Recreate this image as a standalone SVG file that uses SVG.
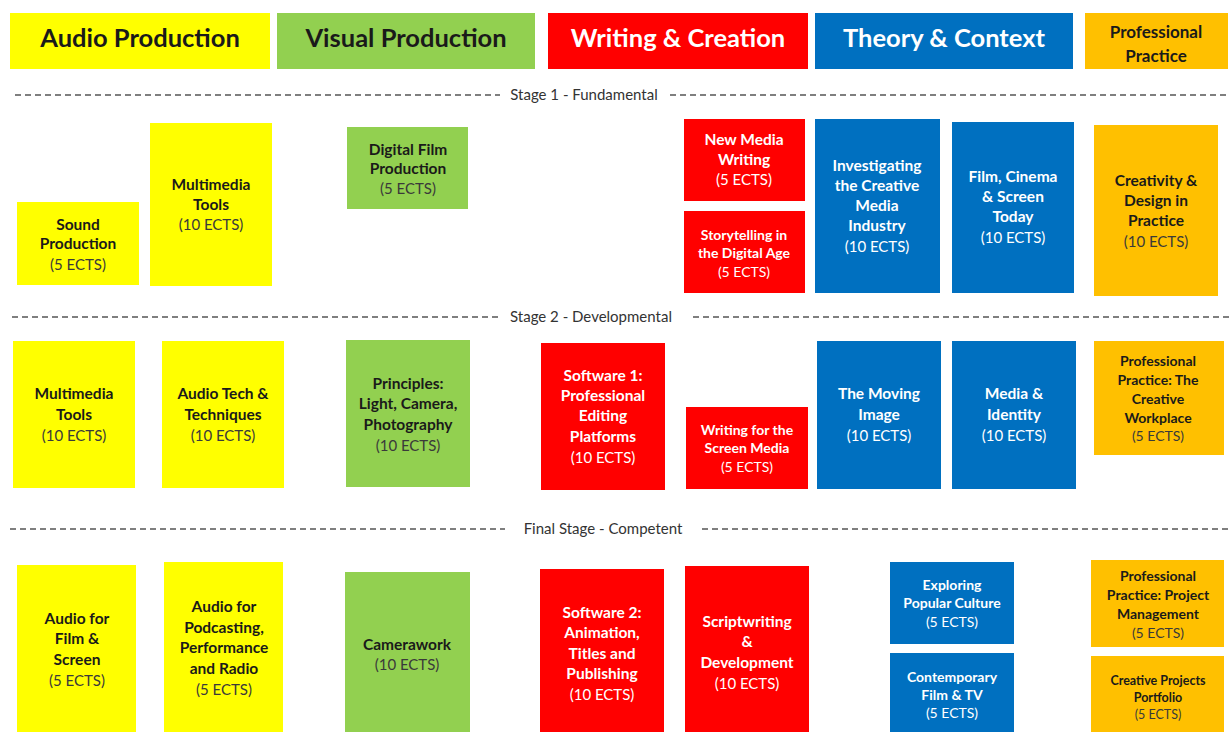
<svg xmlns="http://www.w3.org/2000/svg" width="1230" height="732" viewBox="0 0 1230 732">
<style>
text{font-family:Lato,"Open Sans","Liberation Sans",sans-serif;text-anchor:middle}
.b{font-weight:bold;font-size:15.5px}
.r{font-weight:normal;font-size:15px}
.s{font-size:14px}
.xs{font-size:12.5px}
.hd{font-weight:bold;font-size:25.5px}
.hs{font-weight:bold;font-size:17px}
.y{fill:#FFFF00}.g{fill:#92D050}.rd{fill:#FF0000}.bl{fill:#0070C0}.o{fill:#FFC000}
.dk{fill:#1a1a1a}.gy{fill:#3a3a3a}.w{fill:#ffffff}
.dash{stroke:#555;stroke-width:1.3;stroke-dasharray:6 4;fill:none}
.st{font-size:15px;fill:#333}
</style>
<rect width="1230" height="732" fill="#ffffff"/>

<g id="headers">
<g id="h-audio"><rect class="y" x="10" y="13" width="260" height="56"/><text class="hd dk" x="140" y="47">Audio Production</text></g>
<g id="h-visual"><rect class="g" x="277" y="13" width="258" height="56"/><text class="hd dk" x="406" y="47">Visual Production</text></g>
<g id="h-writing"><rect class="rd" x="548" y="13" width="260" height="56"/><text class="hd w" x="678" y="47">Writing &amp; Creation</text></g>
<g id="h-theory"><rect class="bl" x="815" y="13" width="258" height="56"/><text class="hd w" x="944" y="47">Theory &amp; Context</text></g>
<g id="h-prof"><rect class="o" x="1085" y="13" width="143" height="56"/><text class="hs dk" x="1156" y="38">Professional</text><text class="hs dk" x="1156" y="62">Practice</text></g>
</g>

<g id="stages">
<path class="dash" d="M15 95H500M670 95H1230"/>
<text class="st" x="584" y="100">Stage 1 - Fundamental</text>
<path class="dash" d="M12 317H500M693 317H1230"/>
<text class="st" x="591" y="322">Stage 2 - Developmental</text>
<path class="dash" d="M10 529H505M702 529H1230"/>
<text class="st" x="603" y="534">Final Stage - Competent</text>
</g>

<g id="stage1">
<g id="s1-sound"><rect class="y" x="17" y="202" width="122" height="83"/>
<text class="b dk" x="78" y="230">Sound</text><text class="b dk" x="78" y="249">Production</text><text class="r gy" x="78" y="270">(5 ECTS)</text></g>
<g id="s1-multimedia"><rect class="y" x="150" y="123" width="122" height="163"/>
<text class="b dk" x="211" y="190">Multimedia</text><text class="b dk" x="211" y="210">Tools</text><text class="r gy" x="211" y="230">(10 ECTS)</text></g>
<g id="s1-digitalfilm"><rect class="g" x="347" y="127" width="121" height="82"/>
<text class="b dk" x="408" y="155">Digital Film</text><text class="b dk" x="408" y="174">Production</text><text class="r gy" x="408" y="194">(5 ECTS)</text></g>
<g id="s1-newmedia"><rect class="rd" x="684" y="119" width="121" height="82"/>
<text class="b w" x="744" y="145">New Media</text><text class="b w" x="744" y="165">Writing</text><text class="r w" x="744" y="185">(5 ECTS)</text></g>
<g id="s1-storytelling"><rect class="rd" x="684" y="211" width="121" height="82"/>
<text class="b s w" x="744" y="240">Storytelling in</text><text class="b s w" x="744" y="258">the Digital Age</text><text class="r s w" x="744" y="277">(5 ECTS)</text></g>
<g id="s1-investigating"><rect class="bl" x="815" y="119" width="125" height="174"/>
<text class="b w" x="877" y="171">Investigating</text><text class="b w" x="877" y="191">the Creative</text><text class="b w" x="877" y="211">Media</text><text class="b w" x="877" y="231">Industry</text><text class="r w" x="877" y="252">(10 ECTS)</text></g>
<g id="s1-filmcinema"><rect class="bl" x="952" y="122" width="122" height="171"/>
<text class="b w" x="1013" y="182">Film, Cinema</text><text class="b w" x="1013" y="202">&amp; Screen</text><text class="b w" x="1013" y="222">Today</text><text class="r w" x="1013" y="243">(10 ECTS)</text></g>
<g id="s1-creativity"><rect class="o" x="1094" y="125" width="124" height="171"/>
<text class="b dk" x="1156" y="186">Creativity &amp;</text><text class="b dk" x="1156" y="206">Design in</text><text class="b dk" x="1156" y="226">Practice</text><text class="r gy" x="1156" y="247">(10 ECTS)</text></g>
</g>

<g id="stage2">
<g id="s2-multimedia"><rect class="y" x="13" y="341" width="122" height="147"/>
<text class="b dk" x="74" y="399">Multimedia</text><text class="b dk" x="74" y="420">Tools</text><text class="r gy" x="74" y="441">(10 ECTS)</text></g>
<g id="s2-audiotech"><rect class="y" x="162" y="341" width="122" height="147"/>
<text class="b dk" x="223" y="399">Audio Tech &amp;</text><text class="b dk" x="223" y="420">Techniques</text><text class="r gy" x="223" y="441">(10 ECTS)</text></g>
<g id="s2-principles"><rect class="g" x="346" y="340" width="124" height="147"/>
<text class="b dk" x="408" y="389">Principles:</text><text class="b dk" x="408" y="409">Light, Camera,</text><text class="b dk" x="408" y="430">Photography</text><text class="r gy" x="408" y="451">(10 ECTS)</text></g>
<g id="s2-software1"><rect class="rd" x="541" y="343" width="124" height="147"/>
<text class="b w" x="603" y="381">Software 1:</text><text class="b w" x="603" y="401">Professional</text><text class="b w" x="603" y="421">Editing</text><text class="b w" x="603" y="442">Platforms</text><text class="r w" x="603" y="463">(10 ECTS)</text></g>
<g id="s2-writingscreen"><rect class="rd" x="686" y="407" width="122" height="82"/>
<text class="b s w" x="747" y="435">Writing for the</text><text class="b s w" x="747" y="453">Screen Media</text><text class="r s w" x="747" y="472">(5 ECTS)</text></g>
<g id="s2-moving"><rect class="bl" x="817" y="341" width="124" height="148"/>
<text class="b w" x="879" y="399">The Moving</text><text class="b w" x="879" y="420">Image</text><text class="r w" x="879" y="441">(10 ECTS)</text></g>
<g id="s2-identity"><rect class="bl" x="952" y="341" width="124" height="148"/>
<text class="b w" x="1014" y="399">Media &amp;</text><text class="b w" x="1014" y="420">Identity</text><text class="r w" x="1014" y="441">(10 ECTS)</text></g>
<g id="s2-workplace"><rect class="o" x="1094" y="341" width="130" height="114"/>
<text class="b s dk" x="1158" y="366">Professional</text><text class="b s dk" x="1158" y="385">Practice: The</text><text class="b s dk" x="1158" y="404">Creative</text><text class="b s dk" x="1158" y="423">Workplace</text><text class="r s gy" x="1158" y="441">(5 ECTS)</text></g>
</g>

<g id="final">
<g id="f-audiofilm"><rect class="y" x="17" y="565" width="119" height="170"/>
<text class="b dk" x="77" y="624">Audio for</text><text class="b dk" x="77" y="644">Film &amp;</text><text class="b dk" x="77" y="665">Screen</text><text class="r gy" x="77" y="686">(5 ECTS)</text></g>
<g id="f-podcast"><rect class="y" x="164" y="562" width="119" height="173"/>
<text class="b dk" x="224" y="612">Audio for</text><text class="b dk" x="224" y="633">Podcasting,</text><text class="b dk" x="224" y="653">Performance</text><text class="b dk" x="224" y="674">and Radio</text><text class="r gy" x="224" y="695">(5 ECTS)</text></g>
<g id="f-camerawork"><rect class="g" x="345" y="572" width="125" height="163"/>
<text class="b dk" x="407" y="650">Camerawork</text><text class="r gy" x="407" y="670">(10 ECTS)</text></g>
<g id="f-software2"><rect class="rd" x="540" y="569" width="124" height="166"/>
<text class="b w" x="602" y="618">Software 2:</text><text class="b w" x="602" y="638">Animation,</text><text class="b w" x="602" y="659">Titles and</text><text class="b w" x="602" y="679">Publishing</text><text class="r w" x="602" y="700">(10 ECTS)</text></g>
<g id="f-script"><rect class="rd" x="685" y="566" width="124" height="169"/>
<text class="b w" x="747" y="627">Scriptwriting</text><text class="b w" x="747" y="647">&amp;</text><text class="b w" x="747" y="668">Development</text><text class="r w" x="747" y="689">(10 ECTS)</text></g>
<g id="f-popular"><rect class="bl" x="890" y="562" width="124" height="82"/>
<text class="b s w" x="952" y="590">Exploring</text><text class="b s w" x="952" y="608">Popular Culture</text><text class="r s w" x="952" y="627">(5 ECTS)</text></g>
<g id="f-contemporary"><rect class="bl" x="890" y="653" width="124" height="82"/>
<text class="b s w" x="952" y="682">Contemporary</text><text class="b s w" x="952" y="700">Film &amp; TV</text><text class="r s w" x="952" y="718">(5 ECTS)</text></g>
<g id="f-projectmgmt"><rect class="o" x="1091" y="560" width="133" height="87"/>
<text class="b s dk" x="1158" y="581">Professional</text><text class="b s dk" x="1158" y="600">Practice: Project</text><text class="b s dk" x="1158" y="619">Management</text><text class="r s gy" x="1158" y="638">(5 ECTS)</text></g>
<g id="f-portfolio"><rect class="o" x="1091" y="656" width="133" height="79"/>
<text class="b xs dk" x="1158" y="685">Creative Projects</text><text class="b xs dk" x="1158" y="702">Portfolio</text><text class="r xs gy" x="1158" y="719">(5 ECTS)</text></g>
</g>
</svg>
